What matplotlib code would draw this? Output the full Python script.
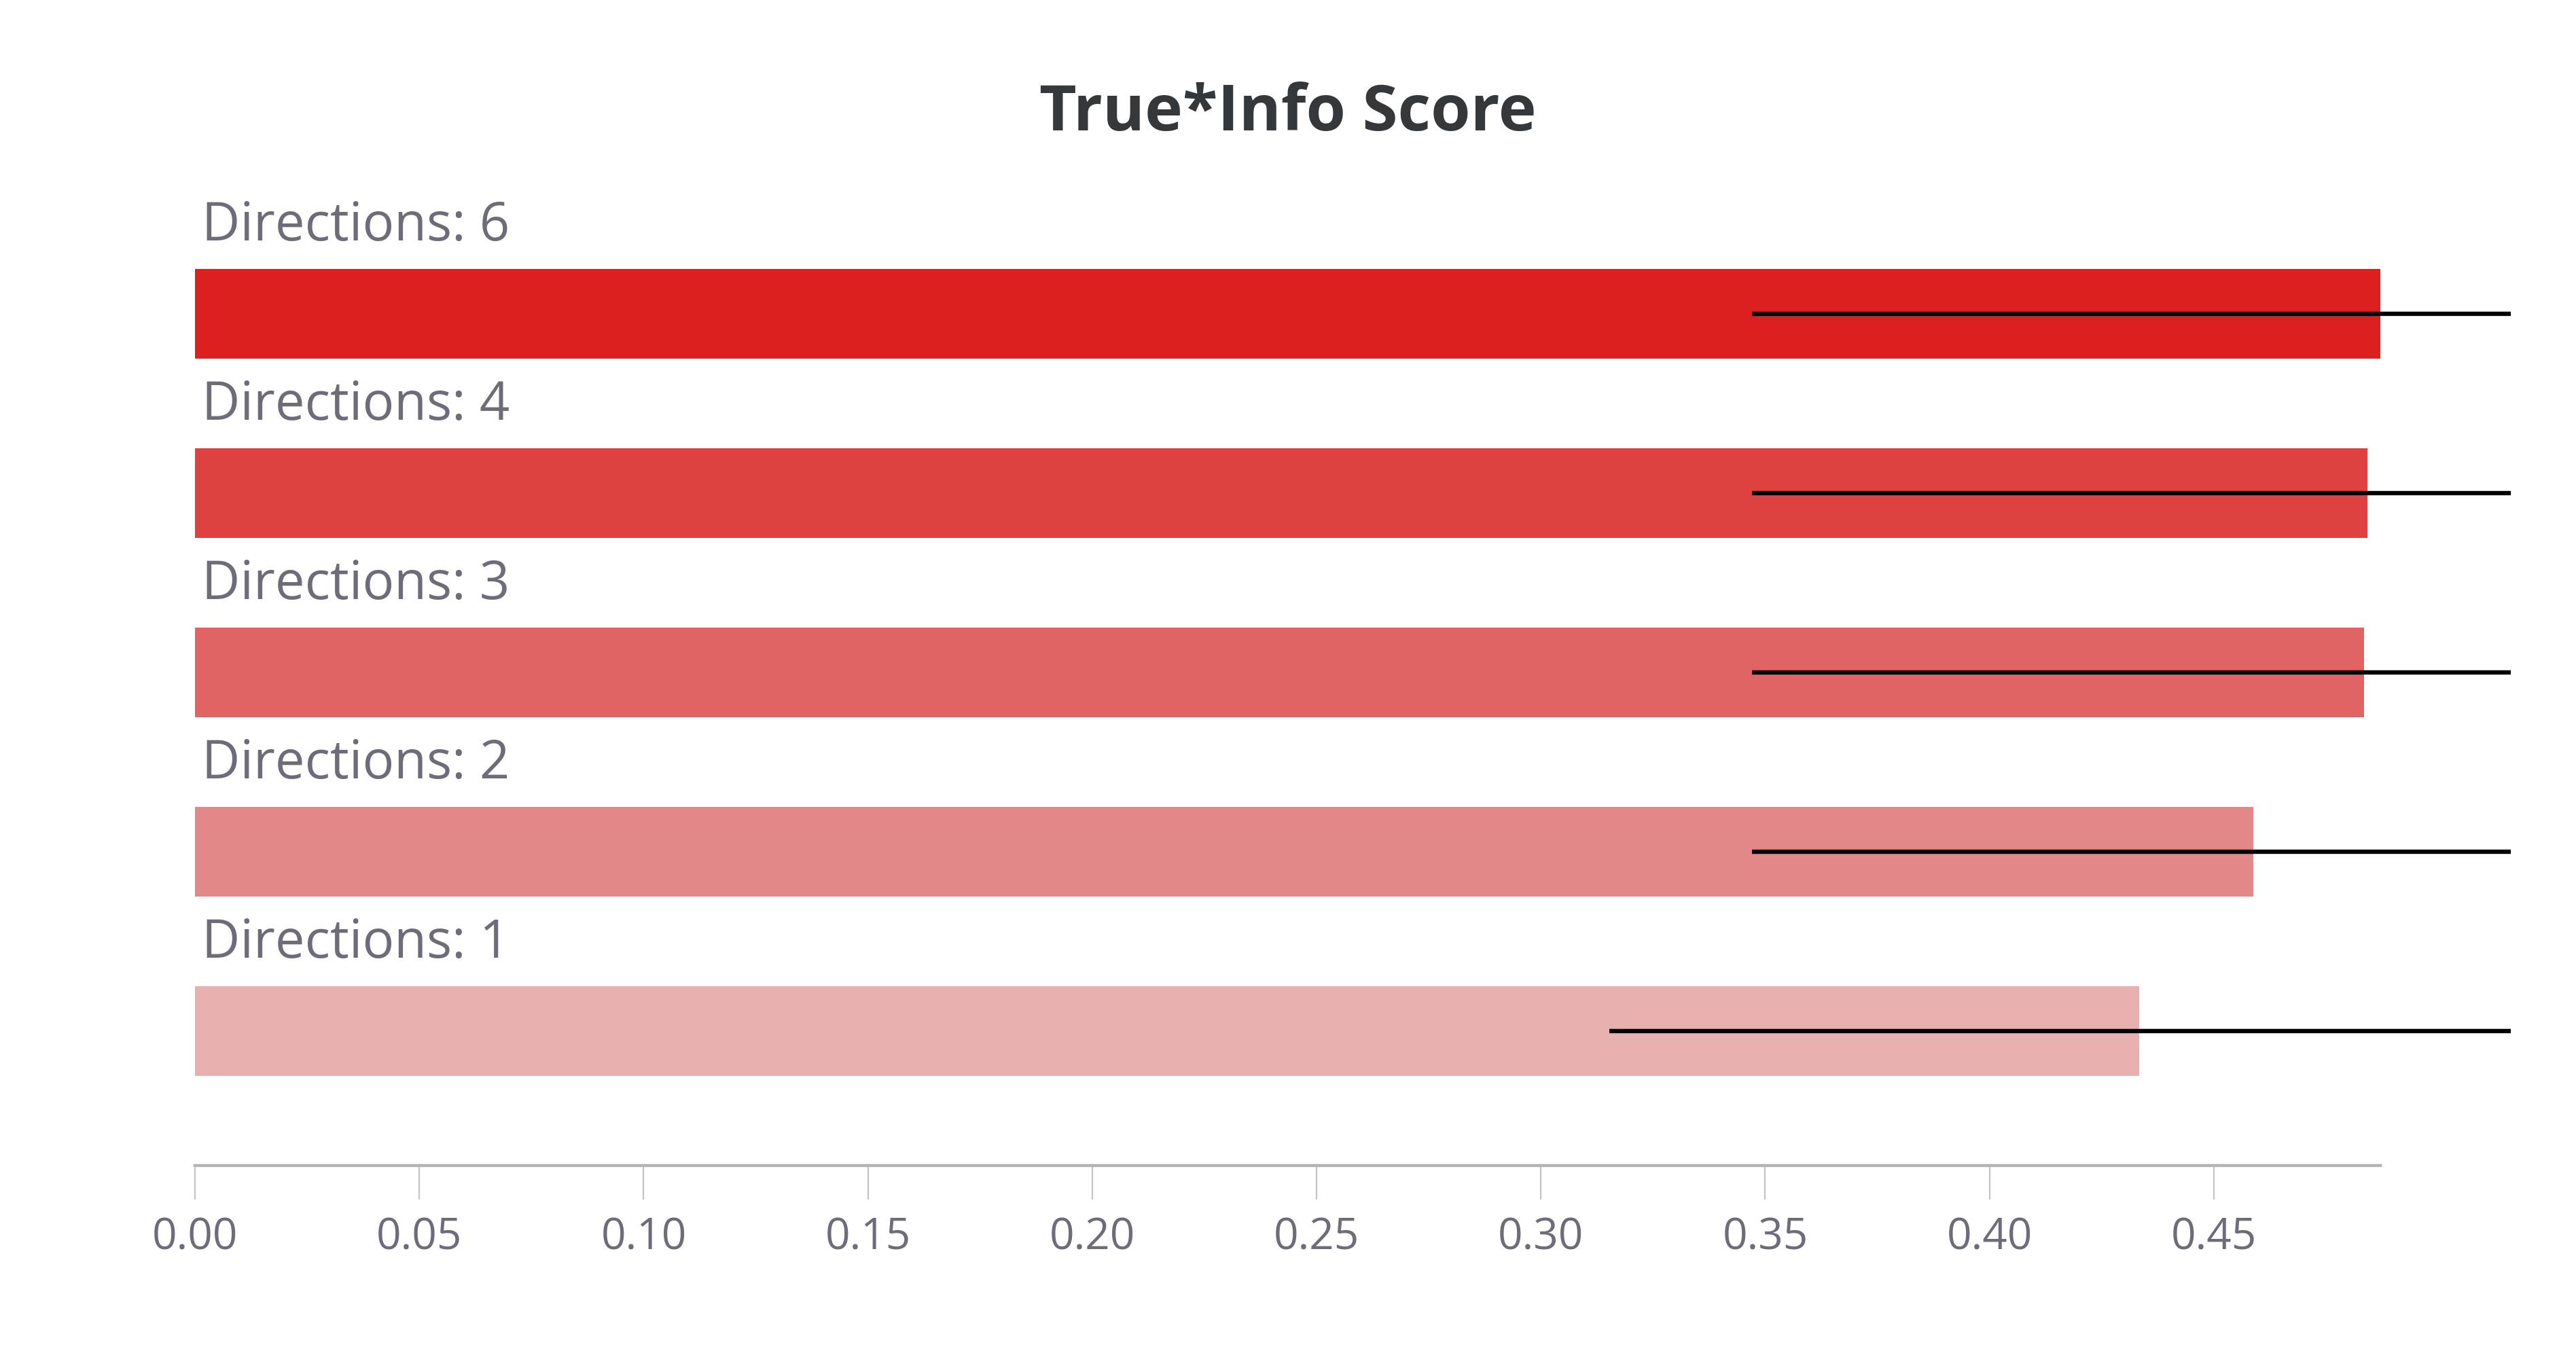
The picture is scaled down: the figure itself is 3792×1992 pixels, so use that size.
import numpy as np
import matplotlib
matplotlib.use("Agg")
import matplotlib.pyplot as plt

# data (top to bottom)
labels = ["Directions: 6", "Directions: 4", "Directions: 3", "Directions: 2", "Directions: 1"]
scores = [0.4871, 0.4843, 0.4835, 0.4588, 0.4334]
err_lower = [0.3471, 0.3471, 0.3471, 0.3471, 0.3153]
colors = ["#DC1F21", "#DF4040", "#DF6463", "#E28888", "#E8B1B1"]
xticks = [0.00, 0.05, 0.10, 0.15, 0.20, 0.25, 0.30, 0.35, 0.40, 0.45]

plt.rcParams['font.family'] = ['Open Sans', 'DejaVu Sans']

fig = plt.figure(figsize=(18.96, 9.96), dpi=200)
ax = fig.add_axes([0.0757, 0.1386, 0.8990, 0.7359])

n = len(labels)
ypos = np.arange(n)[::-1]  # top bar gets the highest y
err = np.array(scores) - np.array(err_lower)  # symmetric error, clipped at right edge

ax.barh(ypos, scores, height=0.5, color=colors, zorder=2)
ax.errorbar(scores, ypos, xerr=err, fmt='none', ecolor='black',
            elinewidth=2.3, capsize=0, zorder=3)

for y, lab in zip(ypos, labels):
    ax.text(0.0015, y + 0.41, lab, fontsize=28, color='#6D6C78',
            ha='left', va='baseline')

ax.set_xlim(0, 0.5162)
ax.set_ylim(-0.75, n - 1 + 0.803)

for s in ['top', 'right', 'left']:
    ax.spines[s].set_visible(False)
ax.spines['bottom'].set_color('#B3B3B3')
ax.spines['bottom'].set_linewidth(1.6)
ax.spines['bottom'].set_bounds(0, max(scores))

ax.set_yticks([])
ax.set_xticks(xticks)
ax.set_xticklabels([f"{t:.2f}" for t in xticks])
ax.tick_params(axis='x', length=18, width=0.8, color='#C4C4C4',
               labelsize=23, labelcolor='#6D6C78', pad=9)

fig.text(0.5, 0.9036, "True*Info Score", fontsize=34, fontweight='bold',
         color='#35383B', ha='center', va='baseline')

fig.savefig("out.png", dpi=200)
